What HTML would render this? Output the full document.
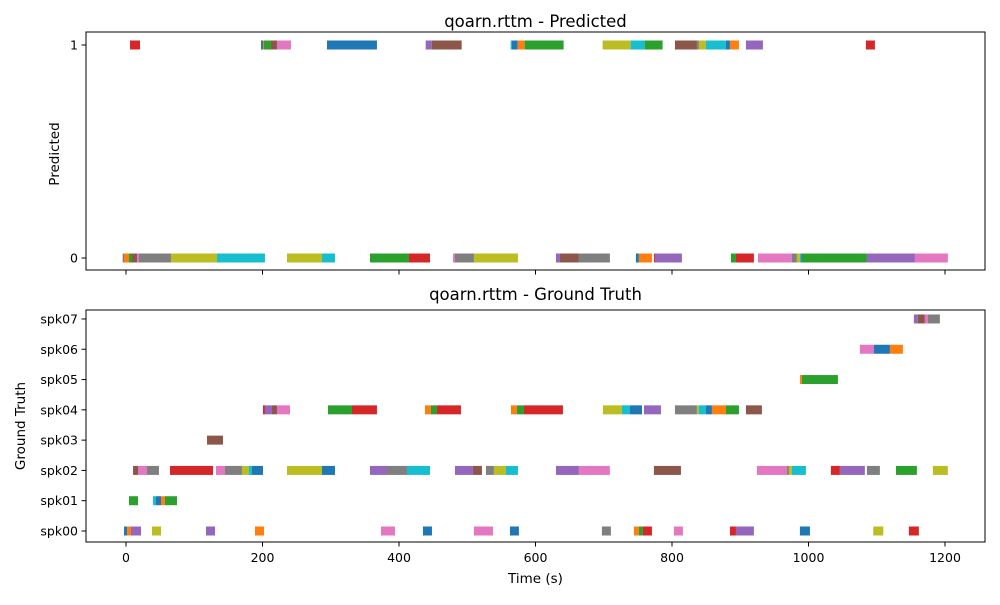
<!DOCTYPE html>
<html><head><meta charset="utf-8"><style>
body{margin:0;background:#fff;font-family:"Liberation Sans","DejaVu Sans",sans-serif;}
svg text{font-family:"DejaVu Sans","Liberation Sans",sans-serif;fill:#000;}
</style></head><body>
<svg id="chart" width="1000" height="600" viewBox="0 0 1000 600"></svg>
<script>
// Predicted: [start, end, colorCode]
const predRow0 = [[-4.8,-3.7,'b'],[-3.7,4.4,'o'],[4.4,8.8,'g'],[8.8,16.1,'n'],[16.1,19.0,'k'],[19.0,65.9,'y'],[65.9,133.3,'l'],[133.3,203.6,'c'],
[235.9,287.1,'l'],[287.1,306.2,'c'],[357.5,414.6,'g'],[414.6,445.4,'r'],[479.1,482.0,'k'],[482.0,509.8,'y'],[509.8,574.3,'l'],
[630.0,635.8,'p'],[635.8,663.6,'n'],[663.6,709.0,'y'],[747.1,751.5,'b'],[751.5,770.6,'o'],[773.5,775.0,'r'],[775.0,814.5,'p'],
[886.3,893.7,'g'],[893.7,920.0,'r'],[925.9,975.7,'k'],[975.7,983.0,'y'],[983.0,987.4,'l'],[987.4,988.9,'c'],[988.9,990.3,'b'],[990.3,1085.6,'g'],[1085.6,1155.9,'p'],[1155.9,1204.2,'k']];
const predRow1 = [[5.9,20.5,'r'],[197.8,200.7,'b'],[200.7,202.2,'o'],[202.2,212.4,'g'],[212.4,221.2,'n'],[221.2,241.7,'k'],[294.5,367.7,'b'],
[439.1,447.9,'p'],[447.9,491.8,'n'],[563.6,565.1,'c'],[565.1,573.8,'b'],[573.8,584.1,'o'],[584.1,641.2,'g'],[698.3,739.4,'l'],[739.4,759.9,'c'],[759.9,786.2,'g'],
[804.3,836.5,'n'],[836.5,839.4,'y'],[839.4,849.7,'l'],[849.7,879.0,'c'],[879.0,884.9,'b'],[884.9,898.1,'o'],[908.3,933.2,'p'],[1084.1,1097.3,'r']];
// Ground truth
const spk00 = [[-2.9,1.5,'b'],[1.5,7.3,'o'],[7.3,22.0,'p'],[38.1,51.3,'l'],[117.2,130.4,'p'],[189.0,202.2,'o'],[373.6,394.1,'k'],[435.1,448.3,'b'],[509.8,537.7,'k'],[562.6,575.7,'b'],
[697.3,710.5,'y'],[744.2,751.5,'o'],[751.5,757.4,'g'],[757.4,770.6,'r'],[802.8,816.0,'k'],[884.9,893.7,'r'],[893.7,920.0,'p'],[987.4,1002.1,'b'],[1094.9,1109.6,'l'],[1147.1,1161.7,'r']];
const spk01 = [[4.4,17.6,'g'],[39.6,43.9,'c'],[43.9,51.3,'b'],[51.3,57.1,'o'],[57.1,74.7,'g']];
const spk02 = [[10.3,17.6,'n'],[17.6,30.8,'k'],[30.8,48.3,'y'],[64.5,127.5,'r'],[131.9,145.0,'k'],[145.0,169.9,'y'],[169.9,180.2,'l'],[180.2,184.6,'c'],[184.6,200.7,'b'],
[235.9,287.1,'l'],[287.1,306.2,'b'],[357.5,382.4,'p'],[382.4,411.7,'y'],[411.7,445.4,'c'],[482.0,508.3,'p'],[508.3,521.5,'n'],[527.4,539.1,'y'],[539.1,556.7,'l'],[556.7,574.3,'c'],
[630.0,663.6,'p'],[663.6,709.0,'k'],[773.5,813.1,'n'],[924.4,968.4,'k'],[968.4,971.3,'y'],[971.3,975.7,'l'],[975.7,996.2,'c'],[1032.8,1046.0,'r'],[1046.0,1082.6,'p'],
[1085.6,1104.6,'y'],[1128.1,1158.8,'g'],[1182.3,1204.2,'l']];
const spk03 = [[118.7,142.1,'n']];
const spk04 = [[200.7,203.6,'r'],[203.6,213.9,'p'],[213.9,221.2,'n'],[221.2,240.3,'k'],[295.9,331.1,'g'],[331.1,367.7,'r'],[438.0,446.8,'o'],[446.8,455.6,'g'],[455.6,490.8,'r'],
[564.0,572.8,'o'],[572.8,583.1,'g'],[583.1,640.2,'r'],[698.8,726.6,'l'],[726.6,738.4,'c'],[738.4,756.0,'b'],[758.9,783.8,'p'],[804.3,836.5,'y'],[836.5,839.4,'l'],
[839.4,849.7,'c'],[849.7,858.5,'b'],[858.5,879.0,'o'],[879.0,898.1,'g'],[908.3,931.7,'n']];
const spk05 = [[987.4,990.3,'o'],[990.3,1043.1,'g']];
const spk06 = [[1075.3,1095.8,'k'],[1095.8,1119.3,'b'],[1119.3,1138.3,'o']];
const spk07 = [[1154.4,1160.2,'p'],[1160.2,1170.5,'n'],[1170.5,1174.9,'k'],[1174.9,1192.5,'y']];
const speakerLabels = ['spk00','spk01','spk02','spk03','spk04','spk05','spk06','spk07'];
const xTicks = [0,200,400,600,800,1000,1200];
const predTicks = [0,1];

const COLORS={b:'#1f77b4',o:'#ff7f0e',g:'#2ca02c',r:'#d62728',p:'#9467bd',n:'#8c564b',k:'#e377c2',y:'#7f7f7f',l:'#bcbd22',c:'#17becf'};
const NS='http://www.w3.org/2000/svg';
const svg=document.getElementById('chart');
function el(tag,attrs,parent){const e=document.createElementNS(NS,tag);for(const k in attrs)e.setAttribute(k,attrs[k]);(parent||svg).appendChild(e);return e;}
const L=86,R=985;
const xs=t=>126+t*0.6825;
const yTop=v=>258-v*213;
const yBot=i=>531-i*30.29;

function axes(name){
  const g=el('g',{});
  
  
  return g;
}
function drawSegs(g,segs,y,name){
  segs.forEach(s=>{
    const r=el('rect',{x:xs(s[0]),y:y-4.5,width:Math.max(0.8,xs(s[1])-xs(s[0])),height:9,fill:COLORS[s[2]]},g);
    
    
  });
}
function frame(g,top,bottom){
  el('rect',{x:L,y:top,width:R-L,height:bottom-top,fill:'none',stroke:'#000','stroke-width':1},g);
}
// Top plot
const gt=axes('predicted-axes');
drawSegs(gt,predRow0,yTop(0),'predicted-segment');
drawSegs(gt,predRow1,yTop(1),'predicted-segment');
frame(gt,32,270);
xTicks.forEach(t=>{el('line',{x1:xs(t),x2:xs(t),y1:270,y2:274.5,stroke:'#000'},gt);});
predTicks.forEach(v=>{
  el('line',{x1:L-4.5,x2:L,y1:yTop(v),y2:yTop(v),stroke:'#000'},gt);
  const t=el('text',{x:L-8,y:yTop(v)+4.5,'text-anchor':'end','font-size':12.5},gt);t.textContent=v;
  
  
});
let tt=el('text',{x:535.5,y:27,'text-anchor':'middle','font-size':16.5},gt);tt.textContent='qoarn.rttm - Predicted';


let yl=el('text',{x:0,y:0,'text-anchor':'middle','font-size':13.5,transform:'translate(59,154) rotate(-90)'},gt);yl.textContent='Predicted';



// Bottom plot
const gb=axes('ground-truth-axes');
[spk00,spk01,spk02,spk03,spk04,spk05,spk06,spk07].forEach((row,i)=>drawSegs(gb,row,yBot(i),'ground-truth-segment'));
frame(gb,310,542);
xTicks.forEach(t=>{
  el('line',{x1:xs(t),x2:xs(t),y1:542,y2:546.5,stroke:'#000'},gb);
  const lb=el('text',{x:xs(t),y:562,'text-anchor':'middle','font-size':12.5},gb);lb.textContent=t;
  
  
});
speakerLabels.forEach((s,i)=>{
  el('line',{x1:L-4.5,x2:L,y1:yBot(i),y2:yBot(i),stroke:'#000'},gb);
  const lb=el('text',{x:L-8,y:yBot(i)+4.5,'text-anchor':'end','font-size':12.5},gb);lb.textContent=s;
  
  
});
tt=el('text',{x:535.5,y:300,'text-anchor':'middle','font-size':16.5},gb);tt.textContent='qoarn.rttm - Ground Truth';


yl=el('text',{x:0,y:0,'text-anchor':'middle','font-size':13.5,transform:'translate(25,426) rotate(-90)'},gb);yl.textContent='Ground Truth';


const xl=el('text',{x:535.5,y:583,'text-anchor':'middle','font-size':13.5},gb);xl.textContent='Time (s)';


</script>
</body></html>
